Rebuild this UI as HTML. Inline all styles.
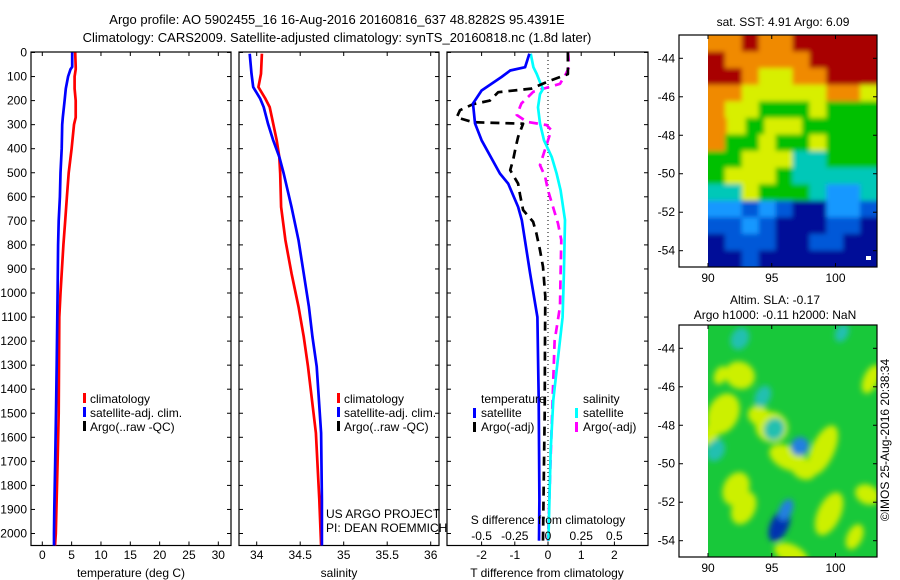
<!DOCTYPE html>
<html><head><meta charset="utf-8"><style>
html,body{margin:0;padding:0;background:#fff;}
svg{display:block;font-family:"Liberation Sans",Arial,sans-serif;}
</style></head><body>
<svg id="fig" width="900" height="580" viewBox="0 0 900 580" xmlns="http://www.w3.org/2000/svg">
<defs>
<filter id="soft" x="-5%" y="-5%" width="110%" height="110%"><feGaussianBlur stdDeviation="2.5"/></filter>
<filter id="soft2" x="-20%" y="-20%" width="140%" height="140%"><feGaussianBlur stdDeviation="3"/></filter>
</defs>
<rect width="900" height="580" fill="#fff"/>
<text x="337" y="24" font-size="13" text-anchor="middle">Argo profile: AO 5902455_16 16-Aug-2016 20160816_637 48.8282S 95.4391E</text>
<text x="337" y="42" font-size="13" text-anchor="middle">Climatology: CARS2009. Satellite-adjusted climatology: synTS_20160818.nc (1.8d later)</text>
<g id="g1"></g>
<g id="g2"></g>
<g id="g3"></g>
<g id="m1"></g>
<g id="m2"></g>
<text x="0" y="0" font-size="12" transform="translate(889,440) rotate(-90)" text-anchor="middle">©IMOS 25-Aug-2016 20:38:34</text>
</svg>
<script>
// ---- data ----
const tDepth = [0,60,70,100,150,200,270,300,400,500,600,700,800,1000,1100,1300,1500,1700,1900,2000,2050];
const tClim  = [5.6,5.7,5.7,5.5,5.5,5.7,5.7,5.4,5.0,4.5,4.2,3.9,3.6,3.1,2.9,2.85,2.8,2.6,2.4,2.3,2.16];
const tSat   = [5.1,5.1,4.8,4.4,4.0,3.8,3.5,3.4,3.3,3.1,3.0,2.8,2.7,2.6,2.56,2.45,2.33,2.2,2.05,2.0,2.0];
const sDepth = [5,88,144,192,227,296,365,434,503,642,780,918,1057,1181,1306,1582,1859,2050];
const sClim  = [34.06,34.05,34.02,34.10,34.15,34.19,34.23,34.26,34.27,34.28,34.33,34.40,34.48,34.54,34.59,34.68,34.72,34.74];
const sSat   = [33.92,33.94,33.96,34.04,34.08,34.13,34.19,34.26,34.31,34.40,34.48,34.54,34.60,34.64,34.69,34.74,34.75,34.75];
const dDepth = [5,61,75,102,158,212,295,365,503,545,642,697,918,1100,1444,1859,2030];
const dTsat  = [-0.56,-0.69,-1.14,-1.4,-2.0,-2.26,-2.2,-2.0,-1.45,-1.2,-0.9,-0.79,-0.54,-0.32,-0.28,-0.26,-0.27];
const cDepth = [5,61,89,123,152,173,228,295,365,434,503,573,697,918,1100,1444,1651,2030];
const dSsat  = [-0.13,-0.11,-0.085,-0.06,-0.038,-0.06,-0.075,-0.06,-0.03,0.028,0.065,0.095,0.128,0.12,0.11,0.04,0.02,0.003];
const aDepth = [0,90,115,150,165,200,215,240,270,290,296,351,392,447,489,545,593,655,704,752,822,891,1015,1200,1500,1800,2030];
const dTargo = [0.6,0.6,0.1,-0.5,-1.5,-1.75,-2.26,-2.65,-2.75,-2.26,-0.75,-0.9,-0.97,-1.05,-1.14,-0.9,-0.84,-0.75,-0.45,-0.35,-0.24,-0.15,-0.08,-0.09,-0.1,-0.13,-0.15];
const mDepth = [0,12,60,89,130,163,212,260,288,302,323,365,468,516,573,642,711,780,918,1056,1200,1444,1651,2030];
const dSargo = [0.15,0.153,0.16,0.135,0.09,-0.11,-0.2,-0.235,-0.16,-0.01,0.025,0,-0.06,-0.022,0,0.038,0.075,0.1,0.095,0.09,0.05,0.035,0.022,0];
const depthTicks = [0,100,200,300,400,500,600,700,800,900,1000,1100,1200,1300,1400,1500,1600,1700,1800,1900,2000];
const tTicks = [0,5,10,15,20,25,30];
const sTicks = [34,34.5,35,35.5,36];
const dTTicks = [-2,-1,0,1,2];
const dSTicks = [-0.5,-0.25,0,0.25,0.5];
const dSLabels = ['-0.5','-0.25','0','0.25','0.5'];
const lonTicks = [90,95,100];
const latTicks = [-44,-46,-48,-50,-52,-54];
// SST coarse grid (rows top->bottom)
const sstGrid = [
"oodooddddd","dooooodddd","ddoyyooddd","ooyyyyyooy","oyygggyggg",
"oygyygggg","oggyggyggg","ggyyyccggg","gyyygccccc","ccygggcllc",
"llblbnnllb","bblbnnnbbn","nbbbnnbbnn","nnbnnnnnnn"];
const sstColors = {d:'#a80000',o:'#f08a00',y:'#d8ef00',g:'#00c000',c:'#00c8b8',l:'#1898ff',b:'#0058d8',n:'#000e98'};
// SLA blobs: lon, lat, rx(deg), ry(deg), color
const slaLon = [92.5,91.2,90.4,95.0,96.3,97.5,99.0,92.2,92.8,99.5,102.5,101.5,96.5,94.0,91.0,102.8,92.5,97.2,95.2,90.6,95.6,96.1,94.3,100.5];
const slaLat = [-45.4,-47.4,-48.2,-48.1,-49.7,-50.3,-49.3,-51.3,-52.3,-52.6,-51.6,-53.8,-54.7,-47.5,-45.4,-45.6,-43.5,-49.1,-48.2,-49.3,-53.2,-52.4,-46.5,-43.2];
const slaRx = [1.2,1.2,0.6,1.3,1.6,1.0,0.9,1.0,0.9,0.9,1.0,0.6,1.4,0.9,0.5,0.6,0.7,0.7,0.8,0.7,0.7,0.5,0.6,0.5];
const slaRy = [0.7,1.1,0.9,0.8,0.6,0.5,1.4,0.9,0.9,1.2,0.5,0.7,0.5,0.5,0.5,0.8,0.6,0.5,0.6,0.6,0.9,0.6,0.6,0.5];
const slaCol = ['y','y','y','y','y','y','y','y','y','y','y','y','y','y','y','y','c','b','c','c','d','b','c','c'];
const slaColors = {y:'#ccf000',c:'#20c0b0',b:'#2080e0',d:'#0030b0'};

const NS='http://www.w3.org/2000/svg';
function mk(parent,tag,attrs){const e=document.createElementNS(NS,tag);for(const k in attrs)e.setAttribute(k,attrs[k]);parent.appendChild(e);return e;}
const Y0=52.5, YS=0.2405, TOP=52, BOT=545.5;
const yD = d => Y0 + d*YS;
const xT = t => 42.3 + t*5.867;
const xS = s => 256.7 + (s-34)*87;
const xDT = v => 548 + v*33.2;
const xDS = v => 548 + v*4*33.2;

function frame(g,x0,x1,name){
  const r=mk(g,'rect',{x:x0,y:TOP,width:x1-x0,height:BOT-TOP,fill:'none',stroke:'#000','stroke-width':1.2});
  
  
  depthTicks.forEach(d=>{
    const y=yD(d);
    const t1=mk(g,'line',{x1:x0,x2:x0+4,y1:y,y2:y,stroke:'#000'});
    
    
    const t2=mk(g,'line',{x1:x1,x2:x1-4,y1:y,y2:y,stroke:'#000'});
    
    
  });
}
function xticks(g,ticks,fx,labels,ly,name){
  ticks.forEach((v,i)=>{
    const x=fx(v);
    const a=mk(g,'line',{x1:x,x2:x,y1:TOP,y2:TOP+4,stroke:'#000'});
    
    
    const b=mk(g,'line',{x1:x,x2:x,y1:BOT,y2:BOT-4,stroke:'#000'});
    
    
    const t=mk(g,'text',{x:x,y:ly,'font-size':12,'text-anchor':'middle'});
    t.textContent=labels?labels[i]:String(v);
    
    
  });
}
function line(g,xs,ds,fx,color,name,dash){
  const p=xs.map((v,i)=>fx(v).toFixed(1)+','+yD(ds[i]).toFixed(1)).join(' ');
  const a={points:p,fill:'none',stroke:color,'stroke-width':2.7,'stroke-linejoin':'round'};
  if(dash)a['stroke-dasharray']=dash;
  const e=mk(g,'polyline',a);
  
  
}
function text(g,x,y,s,name,anchor){
  const t=mk(g,'text',{x:x,y:y,'font-size':12,'text-anchor':anchor||'start'});
  t.textContent=s;
  
  
  return t;
}
function marker(g,x,y,color,name){
  const r=mk(g,'rect',{x:x,y:y-10,width:3,height:10,fill:color});
  
  
}
function legend3(g,x,y){
  const items=[['#f00','climatology'],['#00f','satellite-adj. clim.'],['#000','Argo(..raw -QC)']];
  items.forEach((it,i)=>{marker(g,x,y+i*14,it[0],'legend-marker');text(g,x+7,y+i*14,it[1],'legend-entry');});
}
// panel 1
const g1=document.getElementById('g1');
frame(g1,31,231,'temperature');
depthTicks.forEach(d=>{text(g1,27,yD(d)+4,String(d),'depth-tick-label','end');});
xticks(g1,tTicks,xT,null,559,'temperature-axis');
text(g1,131,577,'temperature (deg C)','x-axis-title-temperature','middle');
line(g1,tClim,tDepth,xT,'#f00','temperature-climatology-line');
line(g1,tSat,tDepth,xT,'#00f','temperature-satellite-line');
legend3(g1,83,403);
// panel 2
const g2=document.getElementById('g2');
frame(g2,239,439,'salinity');
xticks(g2,sTicks,xS,null,559,'salinity-axis');
text(g2,339,577,'salinity','x-axis-title-salinity','middle');
line(g2,sClim,sDepth,xS,'#f00','salinity-climatology-line');
line(g2,sSat,sDepth,xS,'#00f','salinity-satellite-line');
legend3(g2,337,403);
text(g2,326,518,'US ARGO PROJECT','pi-project-label');
text(g2,326,532,'PI: DEAN ROEMMICH','pi-name-label');
// panel 3
const g3=document.getElementById('g3');
frame(g3,447,648,'difference');
const zl=mk(g3,'line',{x1:548,x2:548,y1:TOP,y2:BOT,stroke:'#000','stroke-dasharray':'1,3'});


xticks(g3,dTTicks,xDT,null,559,'t-diff-axis');
text(g3,547,577,'T difference from climatology','x-axis-title-tdiff','middle');
line(g3,dSargo,mDepth,xDS,'#f0f','salinity-argo-diff-line','9,6');
line(g3,dSsat,cDepth,xDS,'#0ff','salinity-satellite-diff-line');
line(g3,dTargo,aDepth,xDT,'#000','temperature-argo-diff-line','9,6');
line(g3,dTsat,dDepth,xDT,'#00f','temperature-satellite-diff-line');
text(g3,548,524,'S difference from climatology','s-diff-axis-title','middle');
dSTicks.forEach((v,i)=>{text(g3,xDS(v),540,dSLabels[i],'s-diff-tick-label','middle');});
text(g3,481,403,'temperature','legend-title-temperature');
text(g3,583,403,'salinity','legend-title-salinity');
marker(g3,473,418,'#00f','legend-marker');text(g3,481,417,'satellite','legend-entry');
marker(g3,473,432,'#000','legend-marker');text(g3,481,431,'Argo(-adj)','legend-entry');
marker(g3,575,418,'#0ff','legend-marker');text(g3,583,417,'satellite','legend-entry');
marker(g3,575,432,'#f0f','legend-marker');text(g3,583,431,'Argo(-adj)','legend-entry');
// maps
const MX0=679, MX1=877, IX0=708;
const xLon = l => IX0 + (l-90)*12.75;
function mapFrame(g,top,name){
  const bot=top+232;
  const yLat = la => top + 23.3 + (-44-la)*19.24;
  latTicks.forEach(la=>{
    const y=yLat(la);
    text(g,675,y+4,String(la),'latitude-tick-label','end');
    const a=mk(g,'line',{x1:MX0,x2:MX0+4,y1:y,y2:y,stroke:'#000'});
    
    
    const b=mk(g,'line',{x1:MX1,x2:MX1-4,y1:y,y2:y,stroke:'#000'});
    
    
  });
  lonTicks.forEach(l=>{
    const x=xLon(l);
    text(g,x,bot+15,String(l),'longitude-tick-label','middle');
    const a=mk(g,'line',{x1:x,x2:x,y1:top,y2:top+4,stroke:'#000'});
    
    
    const b=mk(g,'line',{x1:x,x2:x,y1:bot,y2:bot-4,stroke:'#000'});
    
    
  });
  const r=mk(g,'rect',{x:MX0,y:top,width:MX1-MX0,height:bot-top,fill:'none',stroke:'#000','stroke-width':1.2});
  
  
  return yLat;
}
const defs=document.querySelector('defs');
const m1=document.getElementById('m1');
{
  const top=35, rows=sstGrid.length, ch=232/rows;
  const cp1=mk(defs,'clipPath',{id:'sstclip'});
  mk(cp1,'rect',{x:IX0,y:top,width:MX1-IX0,height:232});
  const outer=mk(m1,'g',{'clip-path':'url(#sstclip)'});
  const inner=mk(outer,'g',{filter:'url(#soft)'});
  sstGrid.forEach((row,ri)=>{
    const cols=row.length, cw=(MX1-IX0)/cols;
    for(let ci=0;ci<cols;ci++){
      const x=IX0+ci*cw, y=top+ri*ch;
      const ex=(ci===0?-8:0), ey=(ri===0?-8:0);
      const r=mk(inner,'rect',{x:(x+ex).toFixed(1),y:(y+ey).toFixed(1),width:(cw+0.6-ex+(ci===cols-1?8:0)).toFixed(1),height:(ch+0.6-ey+(ri===rows-1?8:0)).toFixed(1),fill:sstColors[row[ci]]});
      
      
    }
  });
  const wm=mk(m1,'rect',{x:866,y:256,width:5,height:4,fill:'#fff'});
  
  
  mapFrame(m1,top,'sst-map');
  text(m1,783,26,'sat. SST: 4.91  Argo: 6.09','sst-map-title','middle');
}
const m2=document.getElementById('m2');
{
  const top=325;
  const bg=mk(m2,'rect',{x:IX0,y:top,width:MX1-IX0,height:232,fill:'#18c83a'});
  
  
  const yLat = la => top + 23.3 + (-44-la)*19.24;
  const cp=mk(defs,'clipPath',{id:'slaclip'});
  mk(cp,'rect',{x:IX0,y:top,width:MX1-IX0,height:232});
  const outer=mk(m2,'g',{'clip-path':'url(#slaclip)'});
  const cg=mk(outer,'g',{filter:'url(#soft2)'});
  slaLon.forEach((l,i)=>{
    const e=mk(cg,'ellipse',{cx:xLon(l),cy:yLat(slaLat[i]),rx:slaRx[i]*12.75,ry:slaRy[i]*19.24,fill:slaColors[slaCol[i]],transform:'rotate(25 '+xLon(l)+' '+yLat(slaLat[i])+')'});
    
    
  });
  mapFrame(m2,top,'sla-map');
  text(m2,775,304,'Altim. SLA: -0.17','sla-map-title','middle');
  text(m2,775,319,'Argo h1000: -0.11 h2000: NaN','sla-map-subtitle','middle');
}
</script>
</body></html>
